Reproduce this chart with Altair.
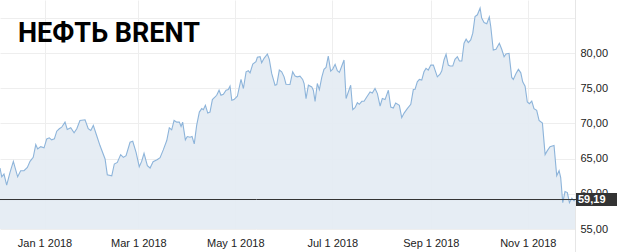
import altair as alt
import pandas as pd

# ---------------- data ----------------
base_date = "2017-12-04"

day_offsets = [
    0, 1.1, 2.5, 4.2, 6.3, 8.4, 11.1, 13.0, 15.1, 17.2, 18.9, 20.9, 22.5, 23.7, 25.6, 27.7,
    29.4, 31.0, 32.5, 34.2, 35.7, 37.3, 38.8, 40.9, 42.3, 44.5, 46.6, 48.3, 50.3, 53.5, 55.5,
    57.1, 58.7, 60.8, 62.9, 66.1, 67.5, 70.3, 71.9, 73.8, 75.9, 77.6, 79.3, 81.8, 83.5, 85.6,
    87.6, 89.1, 90.6, 92.7, 94.4,
    96.3, 98.8, 100.7,
    102.7, 104.9, 106.5, 108.0, 109.5, 111.2, 112.8, 113.9, 114.9, 116.6, 117.8, 119.5, 120.8,
    122.2, 123.7, 125.4, 126.9, 127.9, 129.2, 130.7, 132.1, 133.6, 135.3, 136.3, 137.8, 139.0,
    140.5, 142.2, 143.6, 144.7, 145.8, 147.2, 149.3, 151.6, 153.1, 154.8, 156.2, 157.3, 159.0,
    161.0, 161.9, 163.6, 164.6, 166.1, 168.2, 169.4, 170.9, 173.0, 174.1, 175.7, 177.2, 178.7,
    179.9, 182.4, 184.1, 185.6, 187.0,
    188.7, 190.4, 191.3, 192.5, 194.0, 196.1, 197.1, 198.2, 199.6, 200.9, 202.4, 203.8, 205.1,
    206.5, 208.0, 209.3, 210.8, 212.2, 213.5, 215.0, 216.4, 217.7, 219.1, 220.6, 221.9, 223.3,
    224.8, 226.0, 227.6, 229.0, 230.7, 232.8, 234.2, 235.9, 237.4, 239.1, 240.5, 242.2, 244.3,
    245.8, 247.4, 248.9, 251.2, 252.7, 254.2, 256.2, 258.4, 260.0, 261.1, 262.5, 263.8, 265.3,
    266.7, 268.0, 269.4, 271.0, 272.6, 275.1,
    276.8, 277.9, 279.3, 280.6, 282.0, 283.1, 284.8, 286.2, 287.7, 289.0, 290.5, 291.9, 293.2,
    294.6, 296.1, 297.4, 298.8, 300.3, 302.0, 303.0, 304.5, 306.2, 307.8, 308.7, 310.3, 312.0,
    314.1, 315.6, 317.1, 318.3, 320.2, 321.9, 322.9, 324.6, 326.1, 327.6, 328.8, 330.3, 331.7,
    333.0, 334.5, 335.9, 337.6, 339.1, 341.2, 342.9, 344.3, 346.0, 348.5, 350.2, 351.7, 352.7,
    354.0, 355.4, 356.9, 358.2, 359.7, 361.1, 361.7,
]

prices = [
    63.67, 62.42, 62.81, 61.23, 63.04, 64.61, 62.42, 63.28, 63.28, 63.75, 64.61, 65.18, 67.0,
    66.38, 66.71, 66.53, 67.81, 67.96, 67.67, 67.81, 68.9, 69.25, 69.47, 70.19, 69.15, 69.39,
    68.67, 69.25, 70.43, 70.53, 69.25, 69.0, 69.72, 68.29, 66.86, 64.95, 62.71, 62.57, 64.24,
    64.47, 65.57, 65.18, 65.43, 67.33, 67.47, 65.9, 63.85, 64.61, 65.76, 64.0, 63.67,
    64.57, 64.85, 65.14,
    66.24, 67.57, 69.39, 69.1, 70.43, 70.19, 70.19, 69.57, 70.19, 67.67, 68.14, 68.04, 68.14,
    67.1, 69.72, 71.62, 72.11, 71.96, 72.58, 71.48, 71.62, 73.39, 73.77, 74.01, 74.72, 74.01,
    74.15, 74.72, 74.82, 75.3, 73.29, 73.39, 73.87, 76.26, 74.97, 77.34, 77.49, 77.2, 78.44,
    78.77, 79.4, 79.49, 78.63, 79.26, 79.87, 79.12, 77.11, 75.44, 75.54, 77.59, 77.34, 76.63,
    75.58, 75.54, 77.34, 76.73, 76.63,
    76.73, 76.26, 75.68, 73.54, 75.44, 75.2, 74.72, 73.15, 75.68, 74.82, 76.54, 77.69, 77.97,
    79.59, 77.44, 77.73, 78.4, 77.49, 77.26, 78.16, 79.02, 73.54, 74.48, 75.44, 71.96, 72.25,
    72.96, 72.72, 73.15, 73.15, 73.77, 74.48, 74.34, 74.97, 74.25, 72.48, 73.54, 73.39, 74.72,
    72.34, 72.19, 72.91, 72.58, 70.82, 71.48, 72.11, 72.72, 74.82, 74.87, 75.91, 76.26, 76.16,
    77.34, 77.83, 77.59, 78.3, 78.3, 76.63,
    77.01, 77.49, 79.02, 79.83, 78.3, 78.16, 78.16, 79.12, 79.49, 78.87, 78.87, 81.41, 81.98,
    81.49, 81.88, 82.84, 85.21, 85.45, 86.41, 84.98, 84.35, 84.17, 85.13, 83.78, 80.45, 80.55,
    81.41, 80.55, 79.49, 79.87, 79.97, 76.54, 76.26, 77.11, 77.69, 77.2, 75.91, 75.3, 73.05,
    72.82, 73.19, 72.11, 71.86, 70.43, 70.05, 65.57, 66.14, 66.71, 66.86, 62.57, 63.28, 62.32,
    58.74, 60.32, 60.18, 58.74, 59.37, 58.99, 59.19,
]

last_price = 59.19
title_text = "НЕФТЬ BRENT"
x_tick_dates = [(2018, 1), (2018, 3), (2018, 5), (2018, 7), (2018, 9), (2018, 11)]
y_ticks = [55, 60, 65, 70, 75, 80, 85]
y_max_label = 80
y_domain = [55, 87.55]

# ---------------- build tables ----------------
dates = pd.to_datetime(base_date) + pd.to_timedelta(day_offsets, unit="D")
df = pd.DataFrame({"date": dates, "price": prices})
last_df = pd.DataFrame({
    "price": [last_price],
    "label": [f"{last_price:.2f}".replace(".", ",")],
    "title": [title_text],
})

x_domain = [
    alt.DateTime(year=2017, month=12, date=4),
    alt.DateTime(year=2018, month=11, date=30, hours=16, minutes=48),
]
x_values = [alt.DateTime(year=y, month=m, date=1) for y, m in x_tick_dates]

FONT = "Liberation Sans"
LINE = "#8db4da"
FILL = "#e4ecf3"
GRID = "#eeeeee"

x_enc = alt.X(
    "date:T",
    scale=alt.Scale(domain=x_domain),
    axis=alt.Axis(
        values=x_values,
        format="%b %-d %Y",
        title=None,
        ticks=False,
        domain=False,
        labelPadding=8,
        labelFontSize=11,
        labelFont=FONT,
        labelColor="#222222",
        gridColor=GRID,
        labelFlush=False,
        labelOverlap=False,
    ),
)
y_scale = alt.Scale(domain=y_domain, zero=False, nice=False)
y_axis = alt.Axis(
    orient="right",
    values=y_ticks,
    labelExpr=(
        f"datum.value > {y_max_label} ? '' : "
        "replace(format(datum.value, '.2f'), '.', ',')"
    ),
    title=None,
    ticks=False,
    domain=False,
    labelPadding=5,
    labelFontSize=11,
    labelFont=FONT,
    labelColor="#222222",
    gridColor=GRID,
    labelFlush=False,
    labelOverlap=False,
)
y_enc = alt.Y("price:Q", scale=y_scale, axis=y_axis)

area = alt.Chart(df).mark_area(
    color=FILL,
    opacity=0.92,
    line={"color": LINE, "strokeWidth": 1.1},
).encode(x=x_enc, y=y_enc, y2=alt.datum(y_domain[0]))

base_last = alt.Chart(last_df)

price_line = base_last.mark_rule(color="#333333", strokeWidth=1).encode(
    y=y_enc, x=alt.value(0), x2=alt.value(576)
)

label_box = base_last.mark_rule(color="#333333", strokeWidth=13, strokeCap="butt").encode(
    y=y_enc, x=alt.value(576), x2=alt.value(617)
)

label_text = base_last.mark_text(
    color="white", fontSize=11, font=FONT, fontWeight="bold", align="left", baseline="middle"
).encode(y=y_enc, x=alt.value(578), text="label:N")

right_border = base_last.mark_rule(color="#e6e6e6", strokeWidth=1).encode(
    x=alt.value(575.5), y=alt.value(0), y2=alt.value(252)
)

title = base_last.mark_text(
    font="Roboto", fontSize=27, fontWeight="bold", color="#000000", align="left", baseline="middle"
).encode(x=alt.value(18), y=alt.value(34), text="title:N")

chart = (
    alt.layer(area, right_border, price_line, label_box, label_text, title)
    .properties(
        width=575,
        height=229,
        autosize=alt.AutoSizeParams(type="none"),
        padding={"left": 0, "top": 0, "right": 42, "bottom": 23},
        background="white",
    )
    .configure_view(stroke=None)
    .configure_axis(labelOverlap=False)
)

chart.save("out.html", embed_options={"renderer": "svg", "actions": False})
